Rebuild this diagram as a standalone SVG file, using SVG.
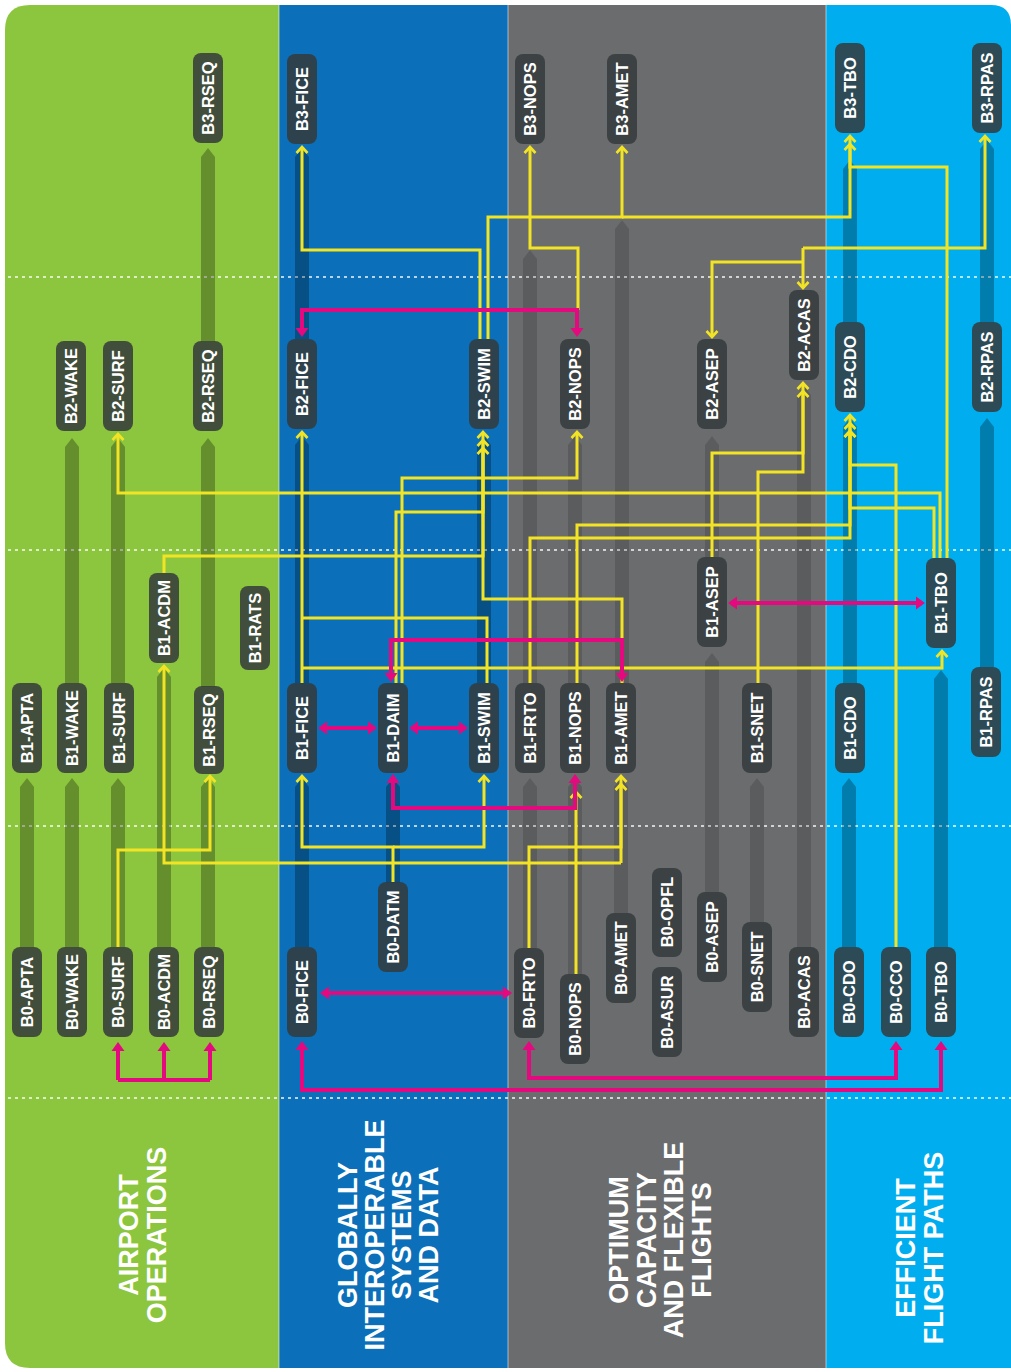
<svg xmlns="http://www.w3.org/2000/svg" width="1011" height="1372" viewBox="0 0 1011 1372">
<defs>
<style>
.node rect{fill:#343a3c;fill-opacity:.86}
.node text{font-family:"Liberation Sans",Arial,sans-serif;font-weight:bold;font-size:16.5px;fill:#fff;text-anchor:middle}
.bar{fill:#000;fill-opacity:.28}
.barg{fill:#000;fill-opacity:.14}
.y{fill:none;stroke:#f2e424;stroke-width:3;marker-end:url(#ya)}
.yn{fill:none;stroke:#f2e424;stroke-width:3}
.m{fill:none;stroke:#e5097f;stroke-width:4;marker-end:url(#ma)}
.m2{fill:none;stroke:#e5097f;stroke-width:4;marker-start:url(#ma);marker-end:url(#ma)}
.mn{fill:none;stroke:#e5097f;stroke-width:4}
.dash{stroke:#fff;stroke-opacity:.7;stroke-width:2;stroke-dasharray:3 4}
.sep{stroke:#fff;stroke-opacity:.45;stroke-width:1.2}
.cat{font-family:"Liberation Sans",Arial,sans-serif;font-weight:bold;font-size:27px;fill:#fff;text-anchor:middle}
</style>
<marker id="ya" viewBox="-8 -7 10 14" refX="0" refY="0" markerWidth="10" markerHeight="14" markerUnits="userSpaceOnUse" orient="auto" overflow="visible">
<path d="M-6,-5.5 L0,0 L-6,5.5" fill="none" stroke="#f2e424" stroke-width="2.6"/>
</marker>
<marker id="ma" viewBox="-10 -7 13 14" refX="-3" refY="0" markerWidth="13" markerHeight="14" markerUnits="userSpaceOnUse" orient="auto-start-reverse" overflow="visible">
<path d="M-9,-6.5 L0,0 L-9,6.5 Z" fill="#e5097f"/>
</marker>
</defs>
<rect width="1011" height="1372" fill="#fff"/>
<g id="columns">
<path d="M30,5 H279 V1368 H30 Q5,1368 5,1343 V30 Q5,5 30,5 Z" fill="#8cc63e"/>
<rect x="279" y="5" width="229" height="1363" fill="#0b70b9"/>
<rect x="508" y="5" width="318" height="1363" fill="#6b6c6e"/>
<path d="M826,5 H991 Q1011,5 1011,25 V1368 H826 Z" fill="#00aeef"/>
<line class="sep" x1="279" y1="5" x2="279" y2="1368"/>
<line class="sep" x1="508" y1="5" x2="508" y2="1368"/>
<line class="sep" x1="826" y1="5" x2="826" y2="1368"/>
<line class="dash" x1="8" y1="277" x2="1011" y2="277"/>
<line class="dash" x1="8" y1="550" x2="1011" y2="550"/>
<line class="dash" x1="8" y1="826" x2="1011" y2="826"/>
<line class="dash" x1="8" y1="1098" x2="1011" y2="1098"/>
</g>
<g id="tracks">
<path class="bar" d="M20,947 V787 L27,778 L34,787 V947 Z"/>
<path class="bar" d="M65,683 V447 L72,438 L79,447 V683 Z"/>
<path class="bar" d="M65,947 V787 L72,778 L79,787 V947 Z"/>
<path class="bar" d="M111,683 V447 L118,438 L125,447 V683 Z"/>
<path class="bar" d="M111,947 V787 L118,778 L125,787 V947 Z"/>
<path class="bar" d="M157,947 V677 L164,668 L171,677 V947 Z"/>
<path class="bar" d="M201,341 V157 L208,148 L215,157 V341 Z"/>
<path class="bar" d="M201,687 V447 L208,438 L215,447 V687 Z"/>
<path class="bar" d="M201,947 V787 L208,778 L215,787 V947 Z"/>
<path class="bar" d="M295,339 V157 L302,148 L309,157 V339 Z"/>
<path class="bar" d="M295,683 V445 L302,436 L309,445 V683 Z"/>
<path class="bar" d="M295,947 V787 L302,778 L309,787 V947 Z"/>
<path class="bar" d="M386,883 V787 L393,778 L400,787 V883 Z"/>
<path class="bar" d="M477,683 V445 L484,436 L491,445 V683 Z"/>
<path class="barg" d="M523,683 V259 L530,250 L537,259 V683 Z"/>
<path class="barg" d="M523,948 V787 L530,778 L537,787 V948 Z"/>
<path class="barg" d="M568,683 V445 L575,436 L582,445 V683 Z"/>
<path class="barg" d="M568,974 V787 L575,778 L582,787 V974 Z"/>
<path class="barg" d="M615,683 V229 L622,220 L629,229 V683 Z"/>
<path class="barg" d="M614,913 V787 L621,778 L628,787 V913 Z"/>
<path class="barg" d="M705,557 V445 L712,436 L719,445 V557 Z"/>
<path class="barg" d="M705,892 V662 L712,653 L719,662 V892 Z"/>
<path class="barg" d="M750,922 V787 L757,778 L764,787 V922 Z"/>
<path class="barg" d="M797,947 V395 L804,386 L811,395 V947 Z"/>
<path class="bar" d="M843,322 V169 L850,160 L857,169 V322 Z"/>
<path class="bar" d="M843,683 V427 L850,418 L857,427 V683 Z"/>
<path class="bar" d="M842,947 V787 L849,778 L856,787 V947 Z"/>
<path class="bar" d="M934,947 V679 L941,670 L948,679 V947 Z"/>
<path class="bar" d="M980,322 V149 L987,140 L994,149 V322 Z"/>
<path class="bar" d="M980,667 V427 L987,418 L994,427 V667 Z"/>
</g>
<g id="connectors">
<path class="y" d="M480,339 V250 H302 V147"/>
<path class="y" d="M488,339 V217 H622 V147"/>
<path class="y" d="M622,217 H850 V136"/>
<path class="y" d="M947,558 V167 H850 V144"/>
<path class="y" d="M578,310 V248 H530 V147"/>
<path class="y" d="M803,248 H985 V136"/>
<path class="y" d="M803,248 V288"/>
<path class="y" d="M803,262 H712 V337"/>
<path class="y" d="M896,947 V465 H850 V415"/>
<path class="y" d="M934,558 V508 H850 V423"/>
<path class="y" d="M577,683 V525 H850 V431"/>
<path class="y" d="M530,683 V538 H850 V431"/>
<path class="y" d="M940,558 V493 H118 V434"/>
<path class="y" d="M402,683 V478 H577 V432"/>
<path class="y" d="M396,683 V512 H483 V448"/>
<path class="y" d="M164,573 V556 H483 V440"/>
<path class="y" d="M622,683 V599 H483 V432"/>
<path class="yn" d="M487,683 V618 H302"/>
<path class="y" d="M302,683 V432"/>
<path class="y" d="M302,668 H942 V651"/>
<path class="y" d="M712,557 V453 H803 V383"/>
<path class="y" d="M758,683 V472 H803 V391"/>
<path class="y" d="M393,882 V847 H302 V776"/>
<path class="y" d="M393,847 H484 V776"/>
<path class="y" d="M529,948 V847 H621 V784"/>
<path class="y" d="M621,863 H164 V666"/>
<path class="y" d="M621,863 V776"/>
<path class="y" d="M576,974 V792"/>
<path class="y" d="M118,947 V850 H210 V776"/>
<path class="mn" d="M118,1080 H210"/>
<path class="m" d="M118,1080 V1045"/>
<path class="m" d="M164,1080 V1045"/>
<path class="m" d="M210,1080 V1045"/>
<path class="m2" d="M323,993 H509"/>
<path class="m2" d="M302,1044 V1090 H941 V1044"/>
<path class="m2" d="M529,1044 V1078 H896 V1044"/>
<path class="m2" d="M321,728 H374"/>
<path class="m2" d="M412,728 H465"/>
<path class="m2" d="M391,679 V640 H622 V679"/>
<path class="m2" d="M393,777 V808 H575 V777"/>
<path class="m2" d="M302,334 V310 H577 V334"/>
<path class="m2" d="M731,603 H922"/>
</g>
<g id="nodes">
<g id="n-B3-RSEQ" class="node"><rect x="193" y="53" width="30" height="90" rx="8"/><text transform="translate(208,98) rotate(-90)" dy="0.36em">B3-RSEQ</text></g>
<g id="n-B2-WAKE" class="node"><rect x="56" y="341" width="30" height="90" rx="8"/><text transform="translate(71,386) rotate(-90)" dy="0.36em">B2-WAKE</text></g>
<g id="n-B2-SURF" class="node"><rect x="103" y="341" width="30" height="90" rx="8"/><text transform="translate(118,386) rotate(-90)" dy="0.36em">B2-SURF</text></g>
<g id="n-B2-RSEQ" class="node"><rect x="193" y="341" width="30" height="90" rx="8"/><text transform="translate(208,386) rotate(-90)" dy="0.36em">B2-RSEQ</text></g>
<g id="n-B1-APTA" class="node"><rect x="12" y="683" width="30" height="90" rx="8"/><text transform="translate(27,728) rotate(-90)" dy="0.36em">B1-APTA</text></g>
<g id="n-B1-WAKE" class="node"><rect x="57" y="683" width="30" height="90" rx="8"/><text transform="translate(72,728) rotate(-90)" dy="0.36em">B1-WAKE</text></g>
<g id="n-B1-SURF" class="node"><rect x="104" y="683" width="30" height="90" rx="8"/><text transform="translate(119,728) rotate(-90)" dy="0.36em">B1-SURF</text></g>
<g id="n-B1-ACDM" class="node"><rect x="149" y="573" width="30" height="90" rx="8"/><text transform="translate(164,618) rotate(-90)" dy="0.36em">B1-ACDM</text></g>
<g id="n-B1-RSEQ" class="node"><rect x="194" y="686" width="30" height="88" rx="8"/><text transform="translate(209,730) rotate(-90)" dy="0.36em">B1-RSEQ</text></g>
<g id="n-B1-RATS" class="node"><rect x="240" y="586" width="30" height="84" rx="8"/><text transform="translate(255,628) rotate(-90)" dy="0.36em">B1-RATS</text></g>
<g id="n-B0-APTA" class="node"><rect x="12" y="947" width="30" height="90" rx="8"/><text transform="translate(27,992) rotate(-90)" dy="0.36em">B0-APTA</text></g>
<g id="n-B0-WAKE" class="node"><rect x="57" y="947" width="30" height="90" rx="8"/><text transform="translate(72,992) rotate(-90)" dy="0.36em">B0-WAKE</text></g>
<g id="n-B0-SURF" class="node"><rect x="103" y="947" width="30" height="90" rx="8"/><text transform="translate(118,992) rotate(-90)" dy="0.36em">B0-SURF</text></g>
<g id="n-B0-ACDM" class="node"><rect x="149" y="947" width="30" height="90" rx="8"/><text transform="translate(164,992) rotate(-90)" dy="0.36em">B0-ACDM</text></g>
<g id="n-B0-RSEQ" class="node"><rect x="194" y="947" width="30" height="90" rx="8"/><text transform="translate(209,992) rotate(-90)" dy="0.36em">B0-RSEQ</text></g>
<g id="n-B3-FICE" class="node"><rect x="287" y="54" width="30" height="90" rx="8"/><text transform="translate(302,99) rotate(-90)" dy="0.36em">B3-FICE</text></g>
<g id="n-B2-FICE" class="node"><rect x="287" y="339" width="30" height="90" rx="8"/><text transform="translate(302,384) rotate(-90)" dy="0.36em">B2-FICE</text></g>
<g id="n-B2-SWIM" class="node"><rect x="469" y="339" width="30" height="90" rx="8"/><text transform="translate(484,384) rotate(-90)" dy="0.36em">B2-SWIM</text></g>
<g id="n-B1-FICE" class="node"><rect x="287" y="683" width="30" height="90" rx="8"/><text transform="translate(302,728) rotate(-90)" dy="0.36em">B1-FICE</text></g>
<g id="n-B1-DAIM" class="node"><rect x="378" y="683" width="30" height="90" rx="8"/><text transform="translate(393,728) rotate(-90)" dy="0.36em">B1-DAIM</text></g>
<g id="n-B1-SWIM" class="node"><rect x="469" y="683" width="30" height="90" rx="8"/><text transform="translate(484,728) rotate(-90)" dy="0.36em">B1-SWIM</text></g>
<g id="n-B0-DATM" class="node"><rect x="378" y="882" width="30" height="90" rx="8"/><text transform="translate(393,927) rotate(-90)" dy="0.36em">B0-DATM</text></g>
<g id="n-B0-FICE" class="node"><rect x="287" y="947" width="30" height="90" rx="8"/><text transform="translate(302,992) rotate(-90)" dy="0.36em">B0-FICE</text></g>
<g id="n-B3-NOPS" class="node"><rect x="515" y="54" width="30" height="90" rx="8"/><text transform="translate(530,99) rotate(-90)" dy="0.36em">B3-NOPS</text></g>
<g id="n-B3-AMET" class="node"><rect x="607" y="54" width="30" height="90" rx="8"/><text transform="translate(622,99) rotate(-90)" dy="0.36em">B3-AMET</text></g>
<g id="n-B2-NOPS" class="node"><rect x="560" y="339" width="30" height="90" rx="8"/><text transform="translate(575,384) rotate(-90)" dy="0.36em">B2-NOPS</text></g>
<g id="n-B2-ASEP" class="node"><rect x="697" y="339" width="30" height="90" rx="8"/><text transform="translate(712,384) rotate(-90)" dy="0.36em">B2-ASEP</text></g>
<g id="n-B2-ACAS" class="node"><rect x="789" y="290" width="30" height="90" rx="8"/><text transform="translate(804,335) rotate(-90)" dy="0.36em">B2-ACAS</text></g>
<g id="n-B1-FRTO" class="node"><rect x="515" y="683" width="30" height="90" rx="8"/><text transform="translate(530,728) rotate(-90)" dy="0.36em">B1-FRTO</text></g>
<g id="n-B1-NOPS" class="node"><rect x="560" y="683" width="30" height="90" rx="8"/><text transform="translate(575,728) rotate(-90)" dy="0.36em">B1-NOPS</text></g>
<g id="n-B1-AMET" class="node"><rect x="606" y="683" width="30" height="90" rx="8"/><text transform="translate(621,728) rotate(-90)" dy="0.36em">B1-AMET</text></g>
<g id="n-B1-ASEP" class="node"><rect x="697" y="557" width="30" height="90" rx="8"/><text transform="translate(712,602) rotate(-90)" dy="0.36em">B1-ASEP</text></g>
<g id="n-B1-SNET" class="node"><rect x="742" y="683" width="30" height="90" rx="8"/><text transform="translate(757,728) rotate(-90)" dy="0.36em">B1-SNET</text></g>
<g id="n-B0-FRTO" class="node"><rect x="514" y="948" width="30" height="90" rx="8"/><text transform="translate(529,993) rotate(-90)" dy="0.36em">B0-FRTO</text></g>
<g id="n-B0-NOPS" class="node"><rect x="560" y="974" width="30" height="90" rx="8"/><text transform="translate(575,1019) rotate(-90)" dy="0.36em">B0-NOPS</text></g>
<g id="n-B0-AMET" class="node"><rect x="606" y="913" width="30" height="90" rx="8"/><text transform="translate(621,958) rotate(-90)" dy="0.36em">B0-AMET</text></g>
<g id="n-B0-OPFL" class="node"><rect x="652" y="868" width="30" height="89" rx="8"/><text transform="translate(667,912) rotate(-90)" dy="0.36em">B0-OPFL</text></g>
<g id="n-B0-ASUR" class="node"><rect x="652" y="967" width="30" height="90" rx="8"/><text transform="translate(667,1012) rotate(-90)" dy="0.36em">B0-ASUR</text></g>
<g id="n-B0-ASEP" class="node"><rect x="697" y="892" width="30" height="90" rx="8"/><text transform="translate(712,937) rotate(-90)" dy="0.36em">B0-ASEP</text></g>
<g id="n-B0-SNET" class="node"><rect x="742" y="922" width="30" height="90" rx="8"/><text transform="translate(757,967) rotate(-90)" dy="0.36em">B0-SNET</text></g>
<g id="n-B0-ACAS" class="node"><rect x="789" y="947" width="30" height="90" rx="8"/><text transform="translate(804,992) rotate(-90)" dy="0.36em">B0-ACAS</text></g>
<g id="n-B3-TBO" class="node"><rect x="835" y="43" width="30" height="90" rx="8"/><text transform="translate(850,88) rotate(-90)" dy="0.36em">B3-TBO</text></g>
<g id="n-B3-RPAS" class="node"><rect x="972" y="43" width="30" height="90" rx="8"/><text transform="translate(987,88) rotate(-90)" dy="0.36em">B3-RPAS</text></g>
<g id="n-B2-CDO" class="node"><rect x="835" y="322" width="30" height="90" rx="8"/><text transform="translate(850,367) rotate(-90)" dy="0.36em">B2-CDO</text></g>
<g id="n-B2-RPAS" class="node"><rect x="972" y="322" width="30" height="90" rx="8"/><text transform="translate(987,367) rotate(-90)" dy="0.36em">B2-RPAS</text></g>
<g id="n-B1-CDO" class="node"><rect x="835" y="683" width="30" height="90" rx="8"/><text transform="translate(850,728) rotate(-90)" dy="0.36em">B1-CDO</text></g>
<g id="n-B1-TBO" class="node"><rect x="926" y="558" width="30" height="90" rx="8"/><text transform="translate(941,603) rotate(-90)" dy="0.36em">B1-TBO</text></g>
<g id="n-B1-RPAS" class="node"><rect x="971" y="667" width="30" height="90" rx="8"/><text transform="translate(986,712) rotate(-90)" dy="0.36em">B1-RPAS</text></g>
<g id="n-B0-CDO" class="node"><rect x="834" y="947" width="30" height="90" rx="8"/><text transform="translate(849,992) rotate(-90)" dy="0.36em">B0-CDO</text></g>
<g id="n-B0-CCO" class="node"><rect x="881" y="947" width="30" height="90" rx="8"/><text transform="translate(896,992) rotate(-90)" dy="0.36em">B0-CCO</text></g>
<g id="n-B0-TBO" class="node"><rect x="926" y="947" width="30" height="90" rx="8"/><text transform="translate(941,992) rotate(-90)" dy="0.36em">B0-TBO</text></g>
</g>
<g id="categories">
<text class="cat" transform="translate(138,1235) rotate(-90)"><tspan x="0" y="0">AIRPORT</tspan><tspan x="0" y="28">OPERATIONS</tspan></text>
<text class="cat" transform="translate(357,1235) rotate(-90)"><tspan x="0" y="0">GLOBALLY</tspan><tspan x="0" y="27">INTEROPERABLE</tspan><tspan x="0" y="54">SYSTEMS</tspan><tspan x="0" y="81">AND DATA</tspan></text>
<text class="cat" transform="translate(628,1240) rotate(-90)"><tspan x="0" y="0">OPTIMUM</tspan><tspan x="0" y="27.5">CAPACITY</tspan><tspan x="0" y="55">AND FLEXIBLE</tspan><tspan x="0" y="82.5">FLIGHTS</tspan></text>
<text class="cat" transform="translate(915,1248) rotate(-90)"><tspan x="0" y="0">EFFICIENT</tspan><tspan x="0" y="28">FLIGHT PATHS</tspan></text>
</g>
</svg>
